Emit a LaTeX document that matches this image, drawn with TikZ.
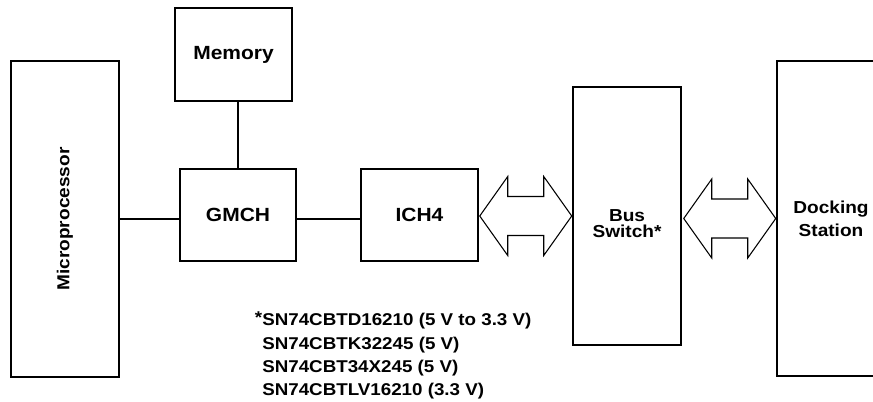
\documentclass[tikz,border=0pt]{standalone}
\usepackage{fontspec}
\setmainfont{Liberation Sans}[FakeStretch=1.1]
\usetikzlibrary{positioning}
\tikzset{
  block/.style = {draw, line width=1.9pt, inner sep=0pt, align=center,
                  font=\bfseries\fontsize{13}{16}\selectfont},
  bigtext/.style = {font=\bfseries\fontsize{14.3}{17}\selectfont},
  wire/.style = {line width=1pt},
  busarrow/.style = {line width=0.8pt, line join=miter},
  partlist/.style = {inner sep=0pt, align=left,
                  font=\bfseries\fontsize{12.8}{17.5}\selectfont}
}
\begin{document}
\begin{tikzpicture} [x = 0.75pt, y = -0.75pt]
	\useasboundingbox (0,0) rectangle (873,401);
	\clip (0,0) rectangle (873,401);
	\node [block, minimum width = 81pt, minimum height = 237pt] (cpu) at (65,219) {\rotatebox{90}{Microprocessor}};
	\node [block, bigtext, minimum width = 87.75pt, minimum height = 69.75pt] (memory) at (233.5,54.5) {Memory};
	\node [block, bigtext, minimum width = 87pt, minimum height = 69pt] (gmch) at (238,215) {GMCH};
	\node [block, bigtext, minimum width = 87.75pt, minimum height = 69pt] (ich) at (419.5,215) {ICH4};
	\node [block, minimum width = 81pt, minimum height = 193.5pt,
	       label = {[font=\bfseries\fontsize{13}{12}\selectfont, align=center, yshift=-6pt]center:Bus\\Switch*}] (bus) at (627,216) {};
	\node [block, minimum width = 81pt, minimum height = 236.25pt, font=\bfseries\fontsize{13}{17}\selectfont] (dock) at (831,218.5) {Docking\\Station};
	\draw [wire] (cpu.east |- 0,219) -- (gmch.west |- 0,219);
	\draw [wire] (memory.south -| gmch.north) -- (gmch.north);
	\draw [wire] (gmch.east |- 0,219) -- (ich.west |- 0,219);
	\foreach \t in {bus, dock}
		\draw [busarrow] (\t.west) -- ++(-28,-39.5) -- ++(0,20) -- ++(-36,0) -- ++(0,-20) -- ++(-28,39.5)
			-- ++(28,39.5) -- ++(0,-20) -- ++(36,0) -- ++(0,20) -- cycle;
	\node [partlist, anchor = north west] (parts) at (262,311) {\llap{\raisebox{2pt}{*}}SN74CBTD16210 (5 V to 3.3 V)\\SN74CBTK32245 (5 V)\\SN74CBT34X245 (5 V)\\SN74CBTLV16210 (3.3 V)};
\end{tikzpicture}
\end{document}
